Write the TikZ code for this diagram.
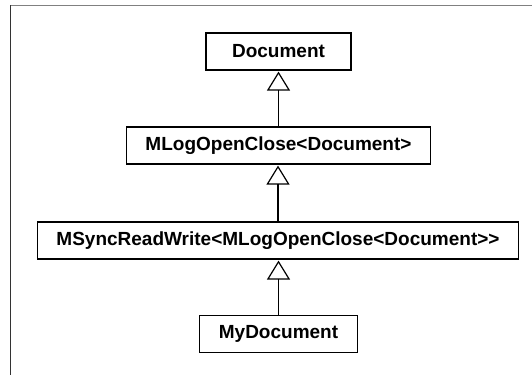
\documentclass[tikz,border=0pt]{standalone}
\usepackage{fontspec}
\setmainfont{Liberation Sans}
\usetikzlibrary{arrows.meta,positioning}
\begin{document}
\begin{tikzpicture}[x=1pt,y=-1pt,
	cls/.style={draw,line width=1.2pt,minimum height=37pt,inner xsep=19pt,font=\fontsize{19}{23}\selectfont\bfseries},
	isa/.style={-{Triangle[open,length=19pt,width=23pt]},line width=1.2pt,shorten >=1pt}]
\useasboundingbox (0,0) rectangle (532,375);
% frame
\draw[gray,line width=1pt] (10,5.5) -- (532,5.5);
\draw[black!80,line width=1pt] (10,5) -- (10,375);
% classes
\node[cls,minimum width=145pt] at (278.5,51.5) (doc) {Document};
\node[cls] at (278.5,145.5) (log) {MLogOpenClose<Document>};
\node[cls] at (278,240.5) (sync) {MSyncReadWrite<MLogOpenClose<Document>{}>};
\node[cls,minimum width=145pt] at (278.5,334) (mydoc) {MyDocument};
% inheritance
\foreach \a/\b in {log/doc,sync/log,mydoc/sync}
	\draw[isa] (\a.north) -- (\a.north |- \b.south);
\end{tikzpicture}
\end{document}
